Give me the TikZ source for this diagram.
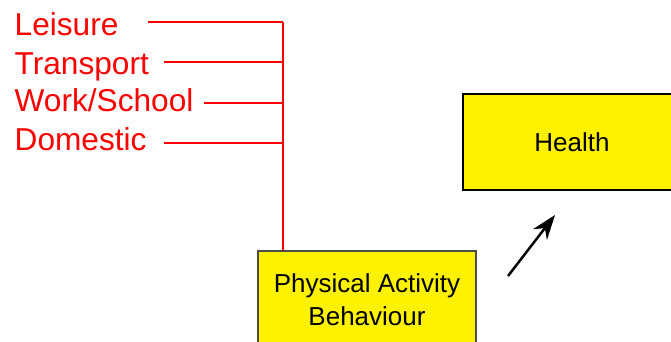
\documentclass[tikz,border=0pt]{standalone}
\usepackage{fontspec}
\setmainfont{Liberation Sans}
\usetikzlibrary{arrows.meta,positioning}

\begin{document}
\begin{tikzpicture}[lab/.style={text=red, font=\fontsize{9}{11}\selectfont, anchor=base west, inner sep=0pt},
  bx/.style={draw, fill=yellow, font=\fontsize{7.4}{9.4}\selectfont, align=center, minimum width=2.18cm}]
\useasboundingbox (0,0) rectangle (6.71,-3.41);
\clip (0,0) rectangle (6.71,-3.41);
% activity domains
\node[lab] (lei) at (0.14,-0.36) {Leisure};
\node[lab] (tra) at (0.14,-0.75) {Transport};
\node[lab] (wor) at (0.14,-1.12) {Work/School};
\node[lab] (dom) at (0.14,-1.50) {Domestic};
% boxes
\node[bx, draw=black!70, minimum height=0.98cm] (pa) at (3.67,-3.0) {Physical Activity\\Behaviour};
\node[bx, minimum height=0.96cm] (hea) at (5.72,-1.42) {Health};
% red bracket
\coordinate (c1) at (1.48,-0.22); \coordinate (c2) at (1.64,-0.62);
\coordinate (c3) at (2.04,-1.03); \coordinate (c4) at (1.64,-1.43);
\coordinate (top) at (2.83,-0.22);
\draw[red] (top) -- (top |- pa.north);
\foreach \c in {c1,c2,c3,c4} \draw[red] (\c) -- (\c -| top);
% arrow
\coordinate (a0) at (5.08,-2.76); \coordinate (a1) at (5.55,-2.15);
\draw[-{Stealth[length=7pt,width=5pt]}, line width=0.7pt] (a0) -- (a1);
\end{tikzpicture}
\end{document}
